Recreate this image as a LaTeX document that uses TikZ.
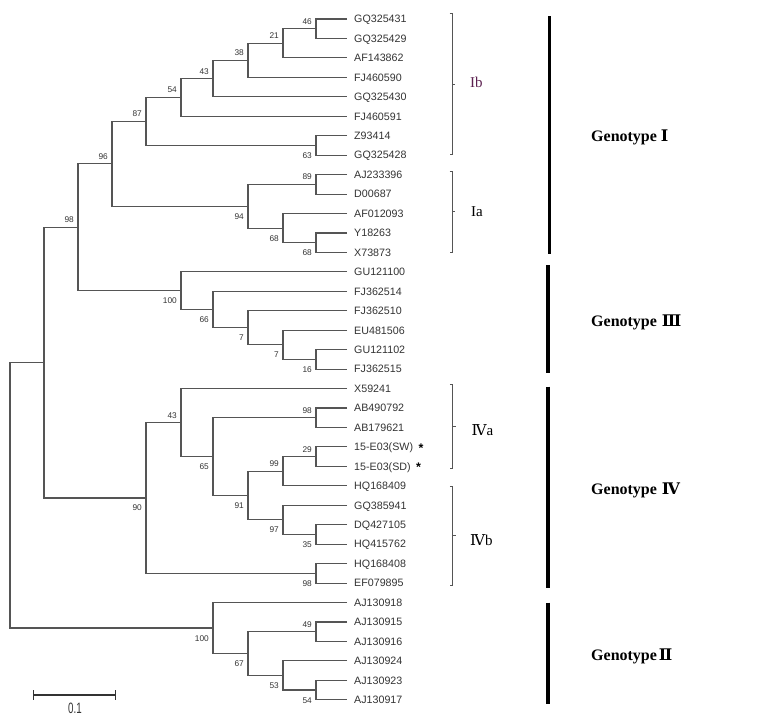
\documentclass[tikz,border=0pt]{standalone}
\usepackage{fontspec}
\setmainfont{Liberation Serif}
\newfontfamily\arialf{Liberation Sans}
\newfontfamily\romf{DejaVu Serif}
\definecolor{treeline}{HTML}{555555}
\definecolor{txt}{HTML}{333333}
\definecolor{ibcol}{HTML}{5C2050}
\newcommand{\rnum}[1]{{\romf #1}}
\tikzset{
  br/.style={draw=treeline, line width=1.1pt},
  leaf/.style={anchor=base west, inner sep=0pt, font=\arialf\fontsize{10.7}{12}\selectfont, text=txt},
  bsa/.style={anchor=base east, inner sep=0pt, xshift=-4pt, yshift=4.5pt, font=\arialf\fontsize{8.3}{9}\selectfont, text=txt},
  bsb/.style={anchor=base east, inner sep=0pt, xshift=-4pt, yshift=-13pt, font=\arialf\fontsize{8.3}{9}\selectfont, text=txt},
  brk/.style={draw=treeline, line width=0.9pt},
  sub/.style={anchor=base west, inner sep=0pt, font=\fontsize{15}{17}\selectfont},
  geno/.style={anchor=base west, inner sep=0pt, font=\bfseries\fontsize{16}{18}\selectfont},
  gbar/.style={draw=black, line width=3.6pt},
  star/.style={inner sep=0pt, font=\arialf\bfseries\fontsize{12.5}{13}\selectfont},
}
\begin{document}
\begin{tikzpicture}[x=1pt,y=-1pt]
\useasboundingbox (0,0) rectangle (768,716);
% leaves
\foreach \i/\nm in {1/GQ325431,2/GQ325429,3/AF143862,4/FJ460590,5/GQ325430,6/FJ460591,7/Z93414,8/GQ325428,9/AJ233396,10/D00687,11/AF012093,12/Y18263,13/X73873,14/GU121100,15/FJ362514,16/FJ362510,17/EU481506,18/GU121102,19/FJ362515,20/X59241,21/AB490792,22/AB179621,23/15-E03(SW),24/15-E03(SD),25/HQ168409,26/GQ385941,27/DQ427105,28/HQ415762,29/HQ168408,30/EF079895,31/AJ130918,32/AJ130915,33/AJ130916,34/AJ130924,35/AJ130923,36/AJ130917}{
  \pgfmathsetmacro\yy{19+(\i-1)*19.45}
  \coordinate (l\i) at (347,\yy);
  \node[leaf] (t\i) at (354,{\yy+3.8}) {\nm};
}
% internal nodes
\coordinate (a46) at (316,28.725);
\coordinate (a21) at (283,43.31);
\coordinate (a38) at (248,60.33);
\coordinate (a43) at (213,78.57);
\coordinate (a54) at (181,97.41);
\coordinate (a63) at (316,145.43);
\coordinate (a87) at (146,121.42);
\coordinate (a89) at (316,184.33);
\coordinate (a68b) at (316,242.68);
\coordinate (a68a) at (283,228.09);
\coordinate (a94) at (248,206.21);
\coordinate (a96) at (112,163.82);
\coordinate (c16) at (316,359.38);
\coordinate (c7b) at (283,344.79);
\coordinate (c7a) at (248,327.77);
\coordinate (c66) at (213,309.54);
\coordinate (c100) at (181,290.69);
\coordinate (a98) at (78,227.25);
\coordinate (d29) at (316,456.63);
\coordinate (d99) at (283,471.21);
\coordinate (d35) at (316,534.43);
\coordinate (d97) at (283,519.84);
\coordinate (d91) at (248,495.53);
\coordinate (d98) at (316,417.73);
\coordinate (d65) at (213,456.63);
\coordinate (d43) at (181,422.59);
\coordinate (d98b) at (316,573.33);
\coordinate (d90) at (146,497.96);
\coordinate (m) at (44,362.6);
\coordinate (e49) at (316,631.68);
\coordinate (e54) at (316,690.03);
\coordinate (e53) at (283,675.44);
\coordinate (e67) at (248,653.56);
\coordinate (e100) at (213,628.03);
\coordinate (root) at (10,495.3);
% branches: each clade drawn once, upper child -| node |- lower child
\draw[br] (l1) -| (a46) |- (l2)
  (a46) -| (a21) |- (l3)
  (a21) -| (a38) |- (l4)
  (a38) -| (a43) |- (l5)
  (a43) -| (a54) |- (l6)
  (l7) -| (a63) |- (l8)
  (a54) -| (a87) |- (a63)
  (l9) -| (a89) |- (l10)
  (l12) -| (a68b) |- (l13)
  (l11) -| (a68a) |- (a68b)
  (a89) -| (a94) |- (a68a)
  (a87) -| (a96) |- (a94)
  (l18) -| (c16) |- (l19)
  (l17) -| (c7b) |- (c16)
  (l16) -| (c7a) |- (c7b)
  (l15) -| (c66) |- (c7a)
  (l14) -| (c100) |- (c66)
  (a96) -| (a98) |- (c100)
  (l23) -| (d29) |- (l24)
  (d29) -| (d99) |- (l25)
  (l27) -| (d35) |- (l28)
  (l26) -| (d97) |- (d35)
  (d99) -| (d91) |- (d97)
  (l21) -| (d98) |- (l22)
  (d98) -| (d65) |- (d91)
  (l20) -| (d43) |- (d65)
  (l29) -| (d98b) |- (l30)
  (d43) -| (d90) |- (d98b)
  (a98) -| (m) |- (d90)
  (l32) -| (e49) |- (l33)
  (l35) -| (e54) |- (l36)
  (l34) -| (e53) |- (e54)
  (e49) -| (e67) |- (e53)
  (l31) -| (e100) |- (e67)
  (m) -| (root) |- (e100);
% bootstrap values
\node[bsa] (b46) at (a46) {46};
\node[bsa] (b21) at (a21) {21};
\node[bsa] (b38) at (a38) {38};
\node[bsa] (b43) at (a43) {43};
\node[bsa] (b54) at (a54) {54};
\node[bsb] (b63) at (a63) {63};
\node[bsa] (b87) at (a87) {87};
\node[bsa] (b89) at (a89) {89};
\node[bsb] (b68b) at (a68b) {68};
\node[bsb] (b68a) at (a68a) {68};
\node[bsb] (b94) at (a94) {94};
\node[bsa] (b96) at (a96) {96};
\node[bsb] (b16) at (c16) {16};
\node[bsb] (b7b) at (c7b) {7};
\node[bsb] (b7a) at (c7a) {7};
\node[bsb] (b66) at (c66) {66};
\node[bsb] (b100c) at (c100) {100};
\node[bsa] (b98a) at (a98) {98};
\node[bsa] (b29) at (d29) {29};
\node[bsa] (b99) at (d99) {99};
\node[bsb] (b35) at (d35) {35};
\node[bsb] (b97) at (d97) {97};
\node[bsb] (b91) at (d91) {91};
\node[bsa] (b98d) at (d98) {98};
\node[bsb] (b65) at (d65) {65};
\node[bsa] (b43d) at (d43) {43};
\node[bsb] (b98e) at (d98b) {98};
\node[bsb] (b90) at (d90) {90};
\node[bsa] (b49) at (e49) {49};
\node[bsb] (b54e) at (e54) {54};
\node[bsb] (b53) at (e53) {53};
\node[bsb] (b67) at (e67) {67};
\node[bsb] (b100e) at (e100) {100};
% asterisks
\node[star] (s1) at (421,448.5) {*};
\node[star] (s2) at (418.5,467) {*};
% brackets
\draw[brk] (449.5,13.3) -- (452.3,13.3) -- (452.3,154.3) -- (449.5,154.3) (452.3,84) -- (455.3,84);
\draw[brk] (449.5,171.7) -- (452.3,171.7) -- (452.3,252.3) -- (449.5,252.3) (452.3,211.7) -- (455.3,211.7);
\draw[brk] (449.8,384) -- (452.7,384) -- (452.7,468.7) -- (449.8,468.7) (452.7,426.7) -- (455.7,426.7);
\draw[brk] (449.8,486) -- (452.7,486) -- (452.7,585) -- (449.8,585) (452.7,535) -- (455.7,535);
\node[sub, text=ibcol] (ib) at (470,87.7) {Ib};
\node[sub] (ia) at (471,216.7) {Ia};
\node[sub] (iva) at (471.5,435.7) {\rnum{Ⅳ}a};
\node[sub] (ivb) at (470,545) {\rnum{Ⅳ}b};
% genotype bars
\draw[gbar] (549.3,16) -- (549.3,254);
\draw[gbar] (547.7,265) -- (547.7,372.7);
\draw[gbar] (547.7,386.7) -- (547.7,587.7);
\draw[gbar] (547.7,602.7) -- (547.7,704.3);
\node[geno] (g1) at (591,141.7) {Genotype \rnum{Ⅰ}};
\node[geno] (g3) at (591,326) {Genotype \hspace{1pt}\rnum{Ⅲ}};
\node[geno] (g4) at (591,494) {Genotype \hspace{1pt}\rnum{Ⅳ}};
\node[geno] (g2) at (591,660.7) {Genotype\hspace{2pt}\rnum{Ⅱ}};
% scale bar
\coordinate (sb1) at (33.3,695);
\coordinate (sb2) at (115.3,695);
\draw[draw=black!80, line width=1.1pt] (sb1) -- (sb2) ([yshift=5pt]sb1) -- ([yshift=-5pt]sb1) ([yshift=5pt]sb2) -- ([yshift=-5pt]sb2);
\node[anchor=base, inner sep=0pt, font=\arialf\fontsize{15}{16}\selectfont, text=txt] (sbl) at (75,713) {\scalebox{0.65}[1]{0.1}};
\end{tikzpicture}
\end{document}
